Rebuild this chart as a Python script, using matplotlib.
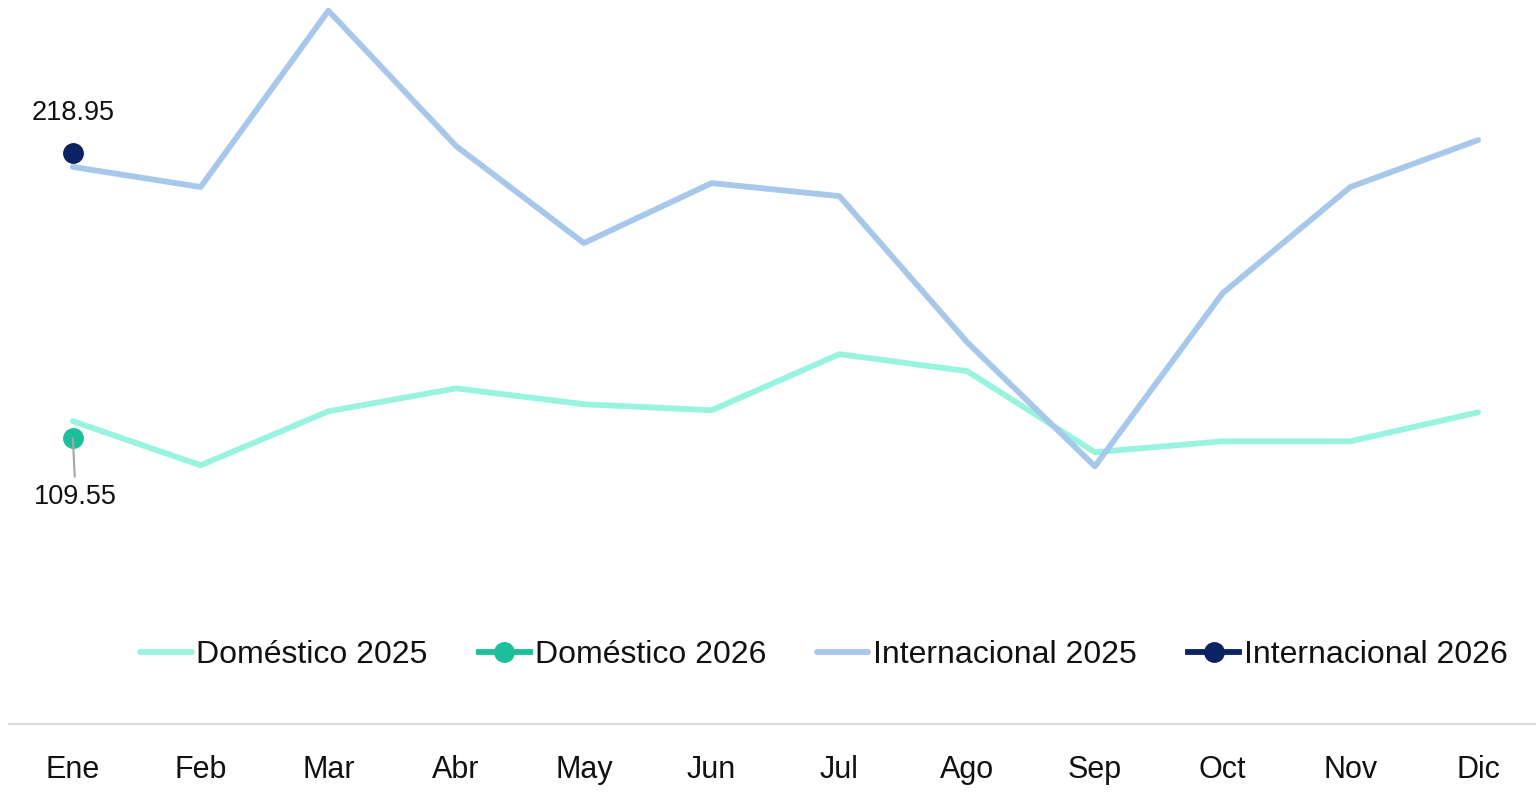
import matplotlib
matplotlib.use("Agg")
import matplotlib.pyplot as plt
from matplotlib import font_manager as fm

months = ["Ene", "Feb", "Mar", "Abr", "May", "Jun", "Jul", "Ago", "Sep", "Oct", "Nov", "Dic"]
dom_2025 = [116.1, 99.2, 119.9, 128.7, 122.6, 120.3, 141.8, 135.3, 104.2, 108.4, 108.4, 119.5]
dom_2026 = [109.55]
int_2025 = [213.6, 205.9, 273.5, 221.6, 184.4, 207.4, 202.4, 146.4, 98.8, 165.2, 205.9, 223.9]
int_2026 = [218.95]
series_names = ["Doméstico 2025", "Doméstico 2026", "Internacional 2025", "Internacional 2026"]

c_dom25 = "#98F3DF"
c_dom26 = "#1BBF9B"
c_int25 = "#A8C8EB"
c_int26 = "#0B2263"

available = {f.name for f in fm.fontManager.ttflist}
main_font = "Liberation Sans" if "Liberation Sans" in available else "DejaVu Sans"
plt.rcParams["font.family"] = [main_font, "DejaVu Sans"]

W, H = 1536, 792
fig = plt.figure(figsize=(W / 100, H / 100), dpi=100)
ax = fig.add_axes([9 / W, 68 / H, 1533 / W, 724 / H])

x = list(range(len(months)))
ax.plot(x, dom_2025, color=c_dom25, lw=4.2, solid_capstyle="round", label=series_names[0], zorder=2)
ax.plot(x[:len(dom_2026)], dom_2026, color=c_dom26, lw=4.2, marker="o", ms=14, label=series_names[1], zorder=3)
ax.plot(x, int_2025, color=c_int25, lw=4.2, solid_capstyle="round", label=series_names[2], zorder=2)
ax.plot(x[:len(int_2026)], int_2026, color=c_int26, lw=4.2, marker="o", ms=14, label=series_names[3], zorder=3)

ax.set_xlim(-0.5, 11.5)
ax.set_ylim(0, 277.6)

# data labels
ax.annotate(f"{int_2026[0]:.2f}", xy=(0, int_2026[0]), xytext=(0, 29), textcoords="offset points",
            ha="center", va="center", fontsize=19.5, color="#111111")
ax.annotate(f"{dom_2026[0]:.2f}", xy=(0, dom_2026[0]), xytext=(2, -42), textcoords="offset points",
            ha="center", va="center", fontsize=19.5, color="#111111", zorder=4,
            arrowprops=dict(arrowstyle="-", color="#A6A6A6", lw=1.5, shrinkA=3, shrinkB=0))

for s in ["top", "right", "left"]:
    ax.spines[s].set_visible(False)
ax.spines["bottom"].set_color("#D9D9D9")
ax.spines["bottom"].set_linewidth(1.5)
ax.set_yticks([])
ax.set_xticks(x)
ax.set_xticklabels(months, fontsize=22, color="#111111")
ax.tick_params(axis="x", length=0, pad=22)

leg = ax.legend(loc="center", bbox_to_anchor=(824 / W, (792 - 655) / H), bbox_transform=fig.transFigure,
                ncol=4, frameon=False, handlelength=1.6, handletextpad=0.15, columnspacing=1.6,
                prop={"family": [main_font, "DejaVu Sans"], "size": 23}, borderpad=0)
for t in leg.get_texts():
    t.set_color("#111111")

fig.savefig("out.png", dpi=100)
